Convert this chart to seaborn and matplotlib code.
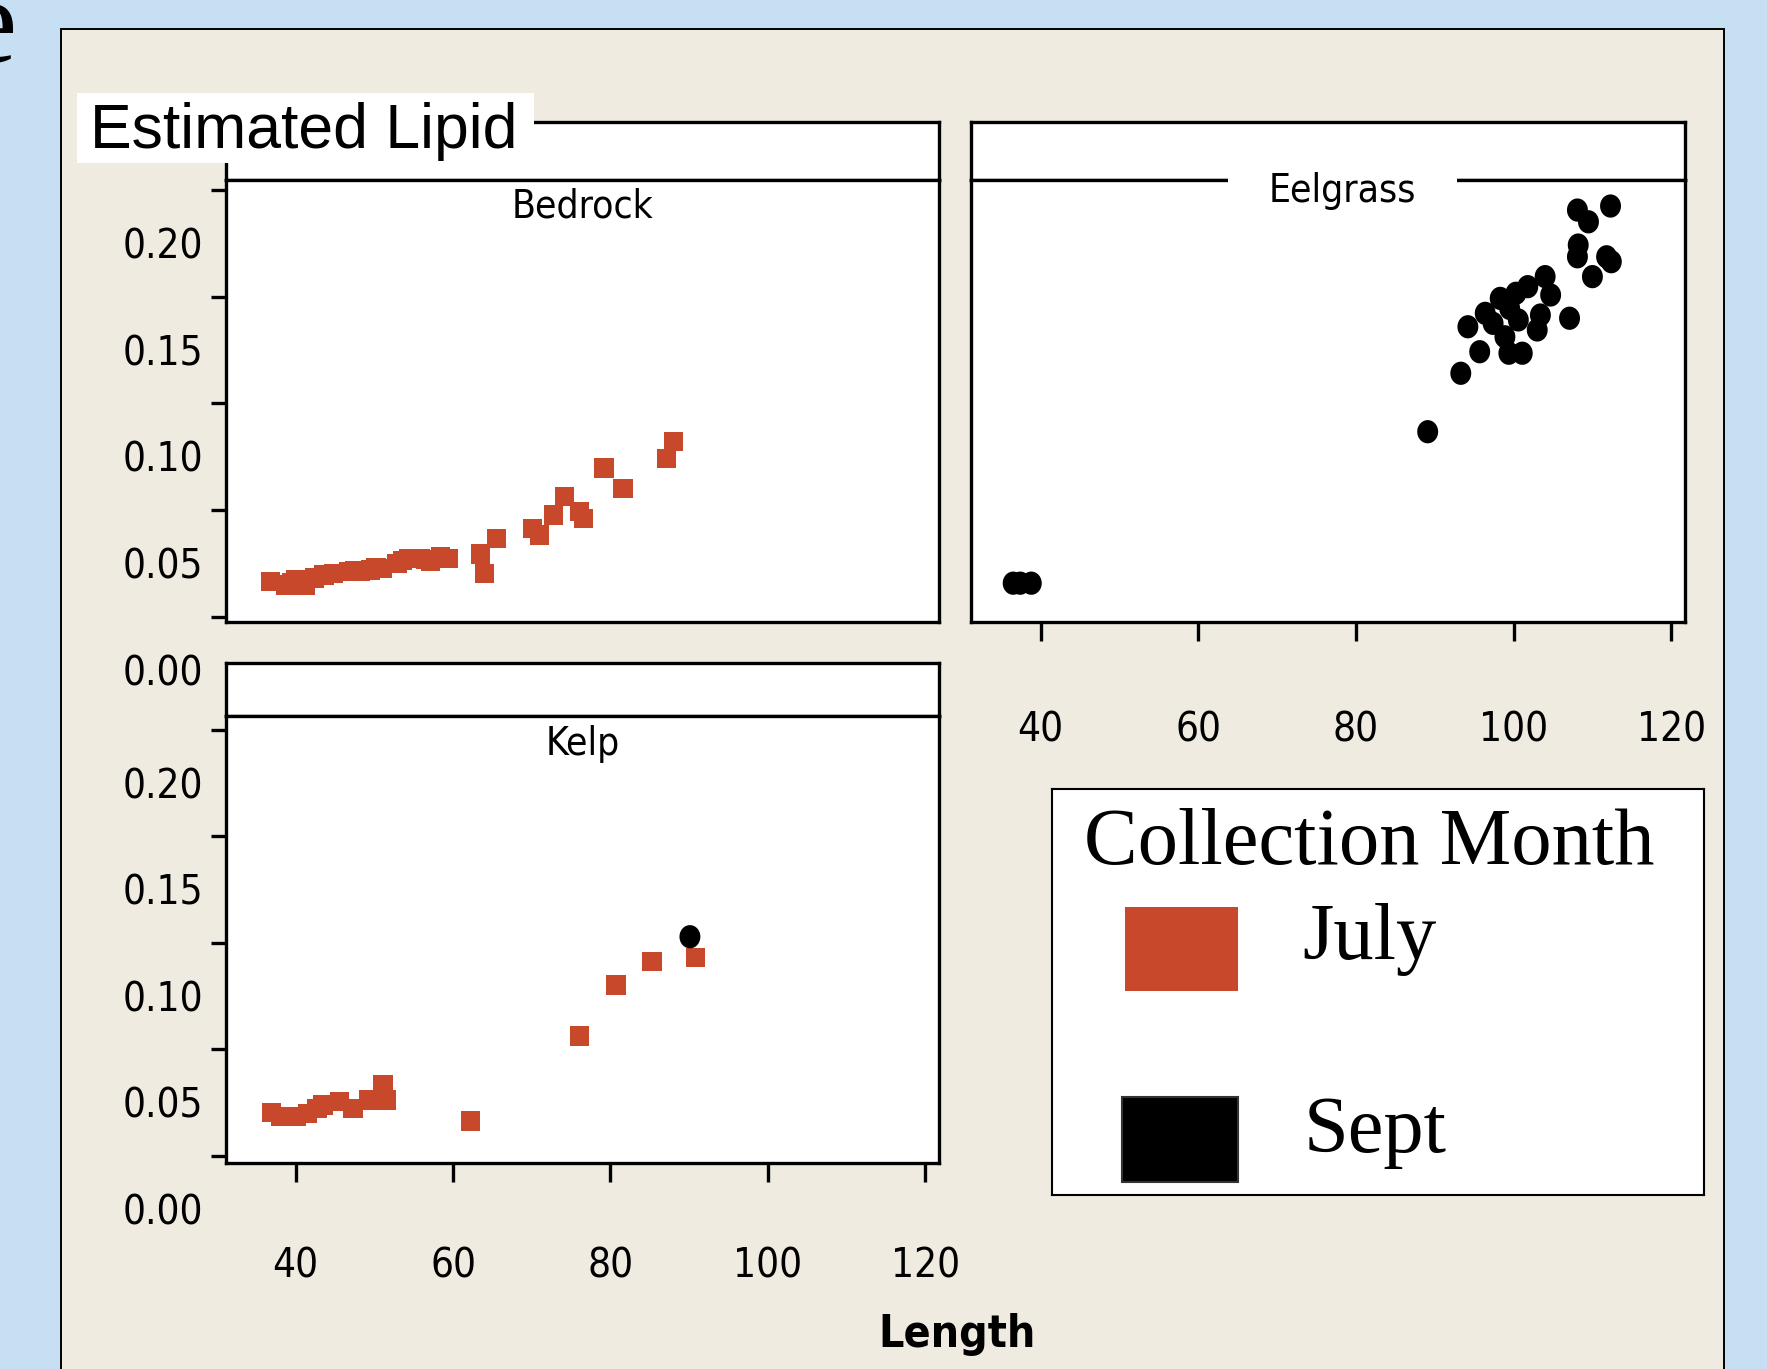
import numpy as np
import pandas as pd
import matplotlib
matplotlib.use("Agg")
import matplotlib.pyplot as plt
from matplotlib.patches import Rectangle
from matplotlib.path import Path
from matplotlib.transforms import ScaledTranslation
import seaborn as sns

# Values (Length vs Estimated Lipid)
bedrock_july_length = [36.8, 38.7, 39.5, 40.0, 41.2, 42.4, 43.6, 44.8, 46.7, 47.5,
                       48.2, 49.5, 50.2, 51.0, 52.9, 53.6, 54.4, 55.8, 56.5, 57.1,
                       58.4, 59.4, 63.5, 64.0, 65.5, 70.1, 71.0, 72.8, 74.2, 76.1,
                       76.6, 79.2, 81.6, 87.1, 88.0]
bedrock_july_lipid = [0.0164, 0.0149, 0.0160, 0.0172, 0.0149, 0.0182, 0.0195, 0.0203, 0.0211, 0.0215,
                      0.0211, 0.0219, 0.0230, 0.0227, 0.0250, 0.0262, 0.0274, 0.0274, 0.0268, 0.0258,
                      0.0281, 0.0274, 0.0294, 0.0203, 0.0367, 0.0414, 0.0383, 0.0477, 0.0562, 0.0492,
                      0.0461, 0.0696, 0.0602, 0.0742, 0.0820]

kelp_july_length = [36.9, 38.1, 40.1, 41.5, 42.7, 43.5, 45.6, 47.3, 49.3, 51.1,
                    51.5, 62.2, 76.1, 80.7, 85.3, 90.8]
kelp_july_lipid = [0.0202, 0.0183, 0.0183, 0.0199, 0.0223, 0.0238, 0.0254, 0.0223, 0.0262, 0.0332,
                   0.0262, 0.0164, 0.0563, 0.0801, 0.0911, 0.0931]
kelp_sept_length = [90.1]
kelp_sept_lipid = [0.1028]

eelgrass_sept_length = [36.5, 37.4, 38.8, 89.1, 93.3, 95.7, 94.2, 96.4, 98.3, 97.4,
                        98.9, 99.4, 101.1, 100.3, 101.8, 100.6, 103.0, 103.4, 104.0, 104.7,
                        107.1, 108.2, 108.1, 110.0, 108.1, 109.5, 112.3, 111.8, 112.4, 99.5]
eelgrass_sept_lipid = [0.0157, 0.0157, 0.0157, 0.0867, 0.1141, 0.1242, 0.1359, 0.1422, 0.1492, 0.1375,
                       0.1312, 0.1235, 0.1235, 0.1516, 0.1547, 0.1391, 0.1344, 0.1414, 0.1594, 0.1508,
                       0.1399, 0.1742, 0.1687, 0.1594, 0.1906, 0.1851, 0.1925, 0.1687, 0.1664, 0.1445]

habitats = ["Bedrock", "Eelgrass", "Kelp"]
months = ["July", "Sept"]
x_ticks = [40, 60, 80, 100, 120]
y_ticks = [0.00, 0.05, 0.10, 0.15, 0.20]
y_tick_labels = ["0.00", "0.05", "0.10", "0.15", "0.20"]

frames = []
for hab, month, length, lipid in [
    ("Bedrock", "July", bedrock_july_length, bedrock_july_lipid),
    ("Kelp", "July", kelp_july_length, kelp_july_lipid),
    ("Kelp", "Sept", kelp_sept_length, kelp_sept_lipid),
    ("Eelgrass", "Sept", eelgrass_sept_length, eelgrass_sept_lipid),
]:
    frames.append(pd.DataFrame({"Length": length, "Lipid": lipid,
                                "Habitat": hab, "Month": month}))
df = pd.concat(frames, ignore_index=True)

# Colours / styling
BLUE = "#c7dff2"
BEIGE = "#efebe1"
RED = "#c7482b"
month_colors = {"July": RED, "Sept": "black"}

theta = np.linspace(0, 2 * np.pi, 60)
ellipse = Path(np.column_stack([0.9 * np.cos(theta), np.sin(theta)]), closed=True)
month_markers = {"July": "s", "Sept": ellipse}
month_sizes = {"July": 195, "Sept": 280}

sns.set_style("white")
plt.rcParams["font.family"] = ["DejaVu Sans"]
plt.rcParams["font.stretch"] = "condensed"
plt.rcParams["text.color"] = "black"
plt.rcParams["axes.labelcolor"] = "black"

W, H = 1767, 1369
fig = plt.figure(figsize=(W / 100, H / 100), dpi=100, facecolor=BLUE)


def box(x0, y0, x1, y1):
    # pixel box (top-left origin) -> figure fraction rect
    return [x0 / W, 1 - y1 / H, (x1 - x0) / W, (y1 - y0) / H]


# beige panel behind everything
fig.add_artist(Rectangle((61 / W, -0.01), (1724 - 61) / W, 1 - 29 / H + 0.01,
                         transform=fig.transFigure, fc=BEIGE, ec="black", lw=1.4, zorder=-1))

# clipped serif letter at the top-left edge (cut off in the reference too)
fig.text(-38 / W, 1 - 62 / H, "e", family="Liberation Serif", fontsize=88,
         va="baseline", ha="left")

strip_boxes = {"Bedrock": (226, 122, 939, 180), "Eelgrass": (971, 122, 1685, 180),
               "Kelp": (226, 663, 939, 716)}
panel_boxes = {"Bedrock": (226, 180, 939, 622), "Eelgrass": (971, 180, 1685, 622),
               "Kelp": (226, 716, 939, 1163)}
ylims = {"Bedrock": (-0.0025, 0.2047), "Eelgrass": (-0.0025, 0.2047),
         "Kelp": (-0.0034, 0.2064)}
xpads = {"Eelgrass": 50, "Kelp": 46}

for hab in habitats:
    sax = fig.add_axes(box(*strip_boxes[hab]))
    sax.set_facecolor("white")
    sax.set_xticks([])
    sax.set_yticks([])
    for sp in sax.spines.values():
        sp.set_linewidth(2.4)
        sp.set_color("black")

axes = {}
for hab in habitats:
    ax = fig.add_axes(box(*panel_boxes[hab]))
    axes[hab] = ax
    ax.set_facecolor("white")
    sub = df[df["Habitat"] == hab]
    for month in months:
        d = sub[sub["Month"] == month]
        if len(d) == 0:
            continue
        sns.scatterplot(data=d, x="Length", y="Lipid", ax=ax, color=month_colors[month],
                        marker=month_markers[month], s=month_sizes[month],
                        linewidth=0, edgecolor="none", legend=False, zorder=3)
    ax.set_xlim(31.15, 121.75)
    ax.set_ylim(*ylims[hab])
    ax.set_xlabel("")
    ax.set_ylabel("")
    for sp in ax.spines.values():
        sp.set_linewidth(2.4)
        sp.set_color("black")

    if hab in ("Bedrock", "Kelp"):
        ax.set_yticks(y_ticks, labels=y_tick_labels)
        ax.tick_params(axis="y", left=True, direction="out", length=11, width=2.4,
                       pad=5.5, labelsize=29, colors="black")
    else:
        ax.tick_params(axis="y", left=False, labelleft=False)
    if hab in ("Eelgrass", "Kelp"):
        ax.set_xticks(x_ticks)
        ax.tick_params(axis="x", bottom=True, direction="out", length=14, width=2.4,
                       pad=xpads[hab], labelsize=29, colors="black")
    else:
        ax.tick_params(axis="x", bottom=False, labelbottom=False)

# y tick labels sit half a step below their tick marks in the reference
shift = ScaledTranslation(0, -0.53, fig.dpi_scale_trans)
for hab in ("Bedrock", "Kelp"):
    for t in axes[hab].yaxis.get_major_ticks():
        t.label1.set_transform(t.label1.get_transform() + shift)

# panel titles
axes["Bedrock"].text(0.5, 1 - 27 / 442, "Bedrock", transform=axes["Bedrock"].transAxes,
                     ha="center", va="center", fontsize=28)
axes["Kelp"].text(0.5, 1 - 28 / 447, "Kelp", transform=axes["Kelp"].transAxes,
                  ha="center", va="center", fontsize=28)
eel = axes["Eelgrass"]
eel.add_patch(Rectangle(((1228 - 971) / 714, 1 - 8 / 442), 229 / 714, 16 / 442,
                        transform=eel.transAxes, fc="white", ec="none",
                        zorder=4, clip_on=False))
eel.text((1342 - 971) / 714, 1 - 11 / 442, "Eelgrass", transform=eel.transAxes,
         ha="center", va="center", fontsize=28, zorder=5, clip_on=False)

# y axis title in white box
fig.add_artist(Rectangle((77 / W, 1 - 163 / H), (534 - 77) / W, 70 / H,
                         transform=fig.transFigure, fc="white", ec="none", zorder=5))
fig.text(90 / W, 1 - 148 / H, "Estimated Lipid", family="Liberation Sans",
         fontsize=45, va="baseline", ha="left", zorder=6)

# x axis title
fig.text(957 / W, 1 - 1335 / H, "Length", ha="center", va="center",
         fontsize=32, fontweight="bold")

# legend box
lax = fig.add_axes(box(1052, 789, 1704, 1195))
lax.set_facecolor("white")
lax.set_xlim(0, 652)
lax.set_ylim(406, 0)
lax.set_xticks([])
lax.set_yticks([])
for sp in lax.spines.values():
    sp.set_linewidth(1.5)
    sp.set_color("black")
lax.text(32, 75, "Collection Month", family="Liberation Serif", fontsize=58, va="baseline")
lax.add_patch(Rectangle((73, 118), 113, 84, fc=month_colors["July"], ec="none"))
lax.text(250, 170, "July", family="Liberation Serif", fontsize=58, va="baseline")
lax.add_patch(Rectangle((70, 308), 116, 85, fc=month_colors["Sept"], ec="#333333", lw=1.5))
lax.text(252, 363, "Sept", family="Liberation Serif", fontsize=58, va="baseline")

fig.savefig("out.png", dpi=100, facecolor=BLUE)
